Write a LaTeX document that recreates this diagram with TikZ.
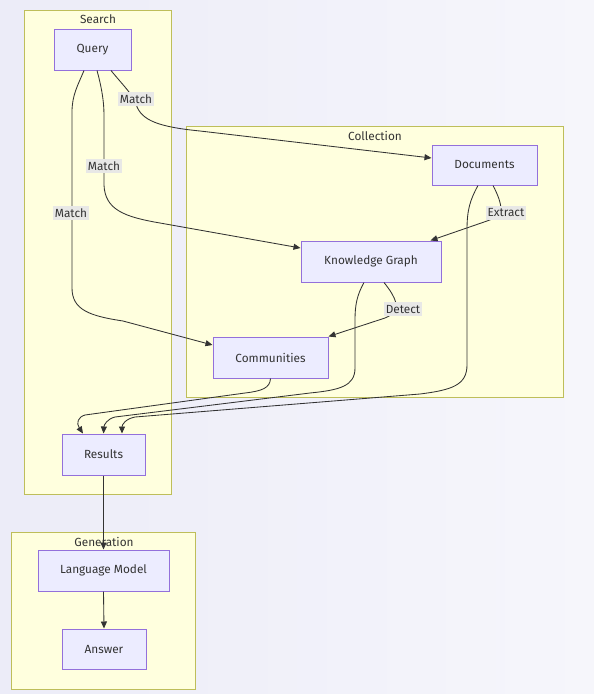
\documentclass[tikz,border=0pt]{standalone}
\usepackage{fontspec}
\setmainfont{Fira Sans}
\usetikzlibrary{arrows.meta}
\definecolor{bgA}{RGB}{236,236,248}
\definecolor{bgB}{RGB}{246,246,251}
\definecolor{clfill}{RGB}{255,255,222}
\definecolor{clline}{RGB}{190,190,90}
\definecolor{ndfill}{RGB}{236,236,255}
\definecolor{ndline}{RGB}{147,112,219}
\definecolor{ink}{RGB}{51,51,51}
\definecolor{lblbg}{RGB}{232,232,230}
\tikzset{
  cluster/.style={draw=clline, fill=clfill, line width=1pt},
  cltitle/.style={font=\fontsize{11.8}{14}\selectfont, text=ink, inner sep=0pt},
  box/.style={draw=ndline, fill=ndfill, line width=1pt, inner sep=0pt,
              font=\fontsize{11.8}{14}\selectfont, text=ink},
  edge/.style={draw=ink, line width=0.85pt, -{Triangle[length=7pt,width=6pt]}},
  elabel/.style={fill=lblbg, inner xsep=1.5pt, inner ysep=2.5pt, font=\fontsize{11.8}{14}\selectfont, text=ink}
}
\begin{document}
\begin{tikzpicture}[x=1pt,y=-1pt]
\useasboundingbox (0,0) rectangle (594,694);
\shade[left color=bgA, right color=bgB] (0,0) rectangle (594,694);
% clusters
\draw[cluster] (24,10) rectangle (171,494);
\node[cltitle] (tS) at (98,19.5) {Search};
\draw[cluster] (186,126) rectangle (563,397);
\node[cltitle] (tC) at (375,135.5) {Collection};
\draw[cluster] (11,532) rectangle (195,689);
\node[cltitle] (tG) at (104,541.5) {Generation};
% nodes
\node[box, minimum width=77pt, minimum height=41pt] (q) at (92.5,49.5) {Query};
\node[box, minimum width=105pt, minimum height=40pt] (d) at (484.5,165) {Documents};
\node[box, minimum width=140pt, minimum height=41pt] (kg) at (371,261.5) {Knowledge Graph};
\node[box, minimum width=115pt, minimum height=41pt] (c) at (270.5,357.5) {Communities};
\node[box, minimum width=83pt, minimum height=41pt] (r) at (103.5,454.5) {Results};
\node[box, minimum width=131pt, minimum height=41pt] (lm) at (103.5,570.5) {Language Model};
\node[box, minimum width=84pt, minimum height=40pt] (a) at (104,649) {Answer};
% edges
\draw[edge] ([xshift=18.5pt]q.south) .. controls (122,84) and (134,96) .. (136,104)
   .. controls (141,121) and (160,127) .. (200,131) -- ([yshift=7pt]d.west);
\draw[edge] ([xshift=4.5pt]q.south) .. controls (101,85) and (104,100) .. (104,115)
   -- (104,185) .. controls (105,210) and (125,217) .. (160,223) -- ([yshift=13.5pt]kg.west);
\draw[edge] ([xshift=-8.5pt]q.south) .. controls (78,85) and (72,95) .. (72,112)
   -- (72,288) .. controls (72,310) and (90,316) .. (123,321) -- ([yshift=12.5pt]c.west);
\draw[edge] ([xshift=8.5pt]d.south) .. controls (498,195) and (501,203) .. (501,210)
   .. controls (500,216) and (495,218) .. (487,221) -- ([xshift=-11pt]kg.north east);
\draw[edge] ([xshift=13pt]kg.south) .. controls (390,290) and (394,296) .. (396,303)
   .. controls (396,312) and (392,315) .. (385,318) -- (c.north east);
\draw[edge] ([xshift=-6.5pt]d.south) .. controls (470,200) and (467,210) .. (467,230)
   -- (467,365) .. controls (467,385) and (452,390) .. (420,394)
   -- (135,417) .. controls (125,419) and (122,425) .. ([xshift=18.5pt]r.north);
\draw[edge] ([xshift=-7pt]kg.south) .. controls (357,295) and (355,305) .. (355,320)
   -- (355,368) .. controls (355,386) and (340,390) .. (310,393)
   -- (115,417) .. controls (107,419) and (104,425) .. (r.north);
\draw[edge] (c.south) .. controls (270,388) and (262,391) .. (245,393)
   -- (85,415) .. controls (78,417) and (76,423) .. ([xshift=-20.5pt]r.north);
\draw[edge] (r.south) -- (lm.north);
\draw[edge] (lm.south) -- (a.north);
% edge labels
\node[elabel] (l1) at (136,99) {Match};
\node[elabel] (l2) at (104,166) {Match};
\node[elabel] (l3) at (71,213) {Match};
\node[elabel] (l4) at (506,213) {Extract};
\node[elabel] (l5) at (403,309) {Detect};
\end{tikzpicture}
\end{document}
